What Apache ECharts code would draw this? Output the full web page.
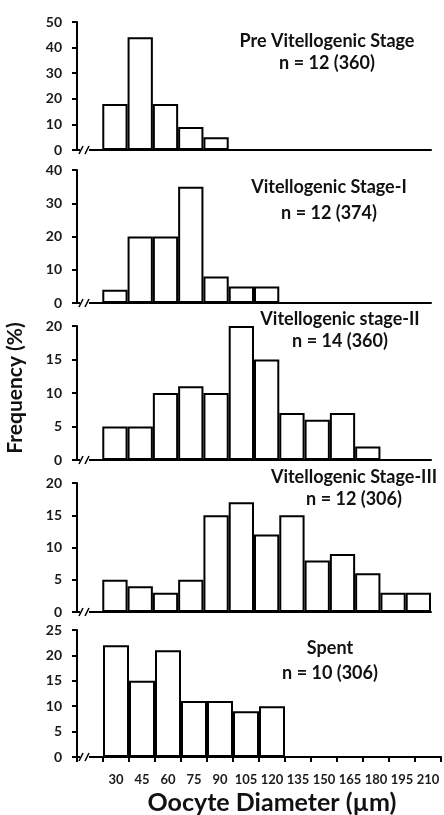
<!DOCTYPE html>
<html>
<head>
<meta charset="utf-8">
<script src="https://cdn.jsdelivr.net/npm/echarts@6/dist/echarts.min.js"></script>
<style>
  html, body { margin: 0; padding: 0; background: #fff; }
  #chart { width: 444px; height: 815px; }
</style>
</head>
<body>
<div id="chart"></div>
<script>
// oocyte diameter classes (µm)
var bins = [30, 45, 60, 75, 90, 105, 120, 135, 150, 165, 180, 195, 210];

// frequency (%) per stage
var preVit = [18, 44, 18, 9, 5];
var vitI = [4, 20, 20, 35, 8, 5, 5];
var vitII = [5, 5, 10, 11, 10, 20, 15, 7, 6, 7, 2];
var vitIII = [5, 4, 3, 5, 15, 17, 12, 15, 8, 9, 6, 3, 3];
var spent = [22, 15, 21, 11, 11, 9, 10];

var stageNames = ["Pre Vitellogenic Stage", "Vitellogenic Stage-I", "Vitellogenic stage-II", "Vitellogenic Stage-III", "Spent"];
var stageN = ["n = 12 (360)", "n = 12 (374)", "n = 14 (360)", "n = 12 (306)", "n = 10 (306)"];
var yMax = [50, 40, 20, 20, 25];
var yStep = [10, 10, 5, 5, 5];

var stages = [preVit, vitI, vitII, vitIII, spent];

// layout of the panels (px)
var panelTop = [22, 170, 326, 483, 630];
var panelH = [128, 133, 134, 129, 127];
var panelRight = [13, 13, 13, 13, 3];
var titlePos = [[327, 41, 63], [329, 187, 213], [340, 319, 341], [354, 477, 499], [330, 648, 673]];

var FONT = "Lato";
var chart = echarts.init(document.getElementById("chart"));

var cats = [""].concat(bins.map(String)); // first slot = gap after the axis break

var grid = [], xAxis = [], yAxis = [], series = [], graphic = [];
stages.forEach(function(vals, i) {
  var last = i === stages.length - 1;
  grid.push({ left: 77, right: panelRight[i], top: panelTop[i], height: panelH[i] });
  xAxis.push({
    type: "category",
    gridIndex: i,
    data: cats,
    axisLine: { lineStyle: { color: "#000", width: 2 } },
    axisTick: { show: last, length: 5, lineStyle: { color: "#000", width: 2 } },
    axisLabel: {
      show: last,
      interval: 0,
      margin: 16,
      color: "#1a1a1a",
      fontFamily: FONT,
      fontWeight: "bold",
      fontSize: 13
    }
  });
  yAxis.push({
    type: "value",
    gridIndex: i,
    min: 0,
    max: yMax[i],
    interval: yStep[i],
    splitLine: { show: false },
    axisLine: { show: true, lineStyle: { color: "#000", width: 2 } },
    axisTick: { show: true, length: 5, lineStyle: { color: "#000", width: 2 } },
    axisLabel: {
      margin: 15,
      color: "#1a1a1a",
      fontFamily: FONT,
      fontWeight: "bold",
      fontSize: 14
    }
  });
  series.push({
    type: "bar",
    xAxisIndex: i,
    yAxisIndex: i,
    data: [null].concat(vals),
    barCategoryGap: "0%",
    itemStyle: { color: "#fff", borderColor: "#000", borderWidth: 2 },
    silent: true
  });

  // stage title
  graphic.push({
    type: "text",
    x: titlePos[i][0], y: titlePos[i][1],
    style: { text: stageNames[i], textAlign: "center", textVerticalAlign: "middle",
      fill: "#111", font: "bold 18px " + FONT }
  });
  graphic.push({
    type: "text",
    x: titlePos[i][0], y: titlePos[i][2],
    style: { text: stageN[i], textAlign: "center", textVerticalAlign: "middle",
      fill: "#111", font: "bold 18px " + FONT }
  });

  // axis break "//"
  var b = panelTop[i] + panelH[i];
  graphic.push({ type: "rect", z: 100, shape: { x: 80, y: b - 2, width: 9, height: 4 }, style: { fill: "#fff" } });
  graphic.push({ type: "line", z: 101, shape: { x1: 79, y1: b + 4, x2: 83, y2: b - 4 }, style: { stroke: "#000", lineWidth: 1.5 } });
  graphic.push({ type: "line", z: 101, shape: { x1: 85, y1: b + 4, x2: 89, y2: b - 4 }, style: { stroke: "#000", lineWidth: 1.5 } });
});

graphic.push({
  type: "text",
  x: 15, y: 388,
  rotation: Math.PI / 2,
  style: { text: "Frequency (%)", textAlign: "center", textVerticalAlign: "middle",
    fill: "#111", font: "bold 21px " + FONT }
});
graphic.push({
  type: "text",
  x: 272, y: 803,
  style: { text: "Oocyte Diameter (µm)", textAlign: "center", textVerticalAlign: "middle",
    fill: "#111", font: "bold 25px " + FONT }
});

chart.setOption({
  animation: false,
  grid: grid,
  xAxis: xAxis,
  yAxis: yAxis,
  series: series,
  graphic: graphic
});
</script>
</body>
</html>
